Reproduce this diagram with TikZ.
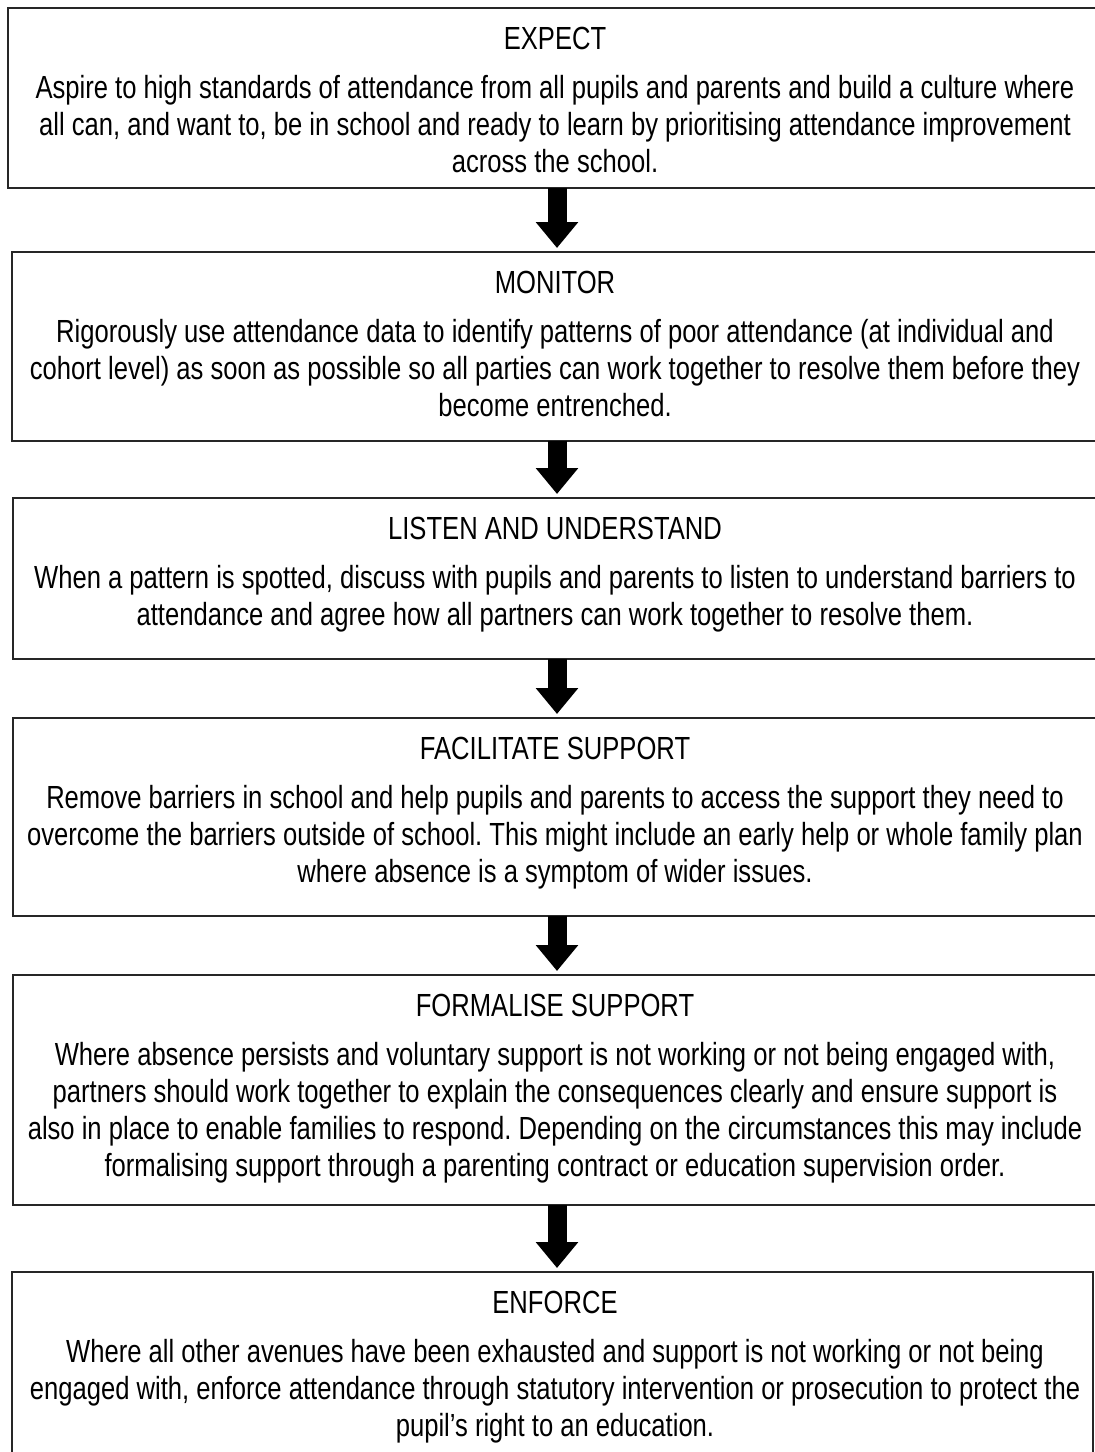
\documentclass[tikz,border=0pt]{standalone}
\usepackage{fontspec}
\setmainfont[FakeStretch=0.8]{Liberation Sans}
\usetikzlibrary{arrows.meta}
\frenchspacing
\begin{document}
\begin{tikzpicture}[x=1pt,y=-1pt,
  box/.style={draw=black!85, line width=2pt, inner sep=0pt, outer sep=0pt},
  txt/.style={font=\fontsize{32}{37}\selectfont, align=center, inner sep=0pt, anchor=base, text=black},
  blockarrow/.style={line width=19pt, -{Triangle[width=41pt,length=26pt]}, black, shorten >=4pt}]
\useasboundingbox[fill=white] (0,0) rectangle (1095,1452);
\coordinate (ax) at (557,0);
% boxes
\node[box, minimum width=1092pt, minimum height=180pt] (b1) at (554,98) {};
\node[box, minimum width=1088pt, minimum height=189pt] (b2) at (556,346.5) {};
\node[box, minimum width=1087pt, minimum height=161pt] (b3) at (556.5,578.5) {};
\node[box, minimum width=1087pt, minimum height=198pt] (b4) at (556.5,817) {};
\node[box, minimum width=1087pt, minimum height=230pt] (b5) at (556.5,1090) {};
\node[box, minimum width=1081pt, minimum height=190pt] (b6) at (552.5,1367) {};
% texts (multi-line nodes: base anchor = last line's baseline)
\node[txt] (t1) at (555,49) {EXPECT};
\node[txt] (d1) at (555,172) {Aspire to high standards of attendance from all pupils and parents and build a culture where\\all can, and want to, be in school and ready to learn by prioritising attendance improvement\\across the school.};
\node[txt] (t2) at (555,293) {MONITOR};
\node[txt] (d2) at (555,416) {Rigorously use attendance data to identify patterns of poor attendance (at individual and\\cohort level) as soon as possible so all parties can work together to resolve them before they\\become entrenched.};
\node[txt] (t3) at (555,539) {LISTEN AND UNDERSTAND};
\node[txt] (d3) at (555,625) {When a pattern is spotted, discuss with pupils and parents to listen to understand barriers to\\attendance and agree how all partners can work together to resolve them.};
\node[txt] (t4) at (555,759) {FACILITATE SUPPORT};
\node[txt] (d4) at (555,882) {Remove barriers in school and help pupils and parents to access the support they need to\\overcome the barriers outside of school. This might include an early help or whole family plan\\where absence is a symptom of wider issues.};
\node[txt] (t5) at (555,1016) {FORMALISE SUPPORT};
\node[txt] (d5) at (555,1176) {Where absence persists and voluntary support is not working or not being engaged with,\\partners should work together to explain the consequences clearly and ensure support is\\also in place to enable families to respond. Depending on the circumstances this may include\\formalising support through a parenting contract or education supervision order.};
\node[txt] (t6) at (555,1313) {ENFORCE};
\node[txt] (d6) at (555,1436) {Where all other avenues have been exhausted and support is not working or not being\\engaged with, enforce attendance through statutory intervention or prosecution to protect the\\pupil’s right to an education.};
% arrows
\draw[blockarrow] (b1.south -| ax) -- (b2.north -| ax);
\draw[blockarrow] (b2.south -| ax) -- (b3.north -| ax);
\draw[blockarrow] (b3.south -| ax) -- (b4.north -| ax);
\draw[blockarrow] (b4.south -| ax) -- (b5.north -| ax);
\draw[blockarrow] (b5.south -| ax) -- (b6.north -| ax);
\end{tikzpicture}
\end{document}
